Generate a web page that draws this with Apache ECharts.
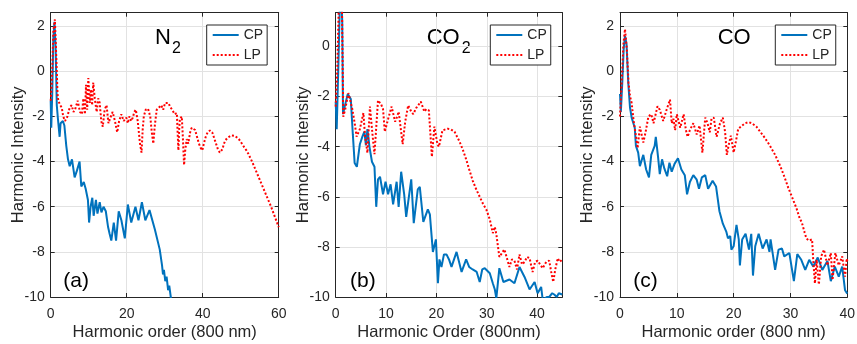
<!DOCTYPE html>
<html>
<head>
<meta charset="utf-8">
<script src="https://cdn.jsdelivr.net/npm/echarts@6/dist/echarts.min.js"></script>
<style>
  html, body { margin: 0; padding: 0; background: #fff; }
  #chart { width: 857px; height: 344px; }
</style>
</head>
<body>
<div id="chart"></div>
<script>
// 数据 : [谐波阶次, 强度]
const n2CP = [[0,-1.3],[0.15,-2.5],[0.4,-1.0],[0.7,1.5],[1.0,2.2],[1.3,1.0],[1.6,-1.5],[1.9,-2.1],[2.35,-2.9],[2.6,-2.3],[3.2,-2.2],[3.6,-2.4],[4.1,-3.3],[4.55,-3.9],[5.0,-4.2],[5.6,-3.9],[6.3,-4.7],[6.9,-4.4],[7.6,-4.0],[8.05,-5.1],[8.7,-4.9],[9.2,-5.2],[9.8,-5.7],[10.1,-6.7],[10.5,-6.0],[10.95,-5.6],[11.3,-6.4],[11.9,-5.7],[12.3,-6.3],[12.9,-5.8],[13.35,-6.25],[13.9,-6.0],[14.5,-6.2],[15.1,-6.9],[15.5,-7.2],[15.95,-7.5],[16.6,-6.7],[17.2,-7.5],[17.9,-6.2],[18.6,-6.6],[19.5,-7.4],[20.3,-5.9],[21.2,-6.7],[22.3,-6.0],[23.1,-6.6],[24.0,-5.8],[24.9,-6.6],[26.0,-6.15],[27.4,-7.0],[28.7,-7.9],[29.3,-8.6],[29.55,-9.0],[29.8,-8.8],[30.15,-9.3],[30.5,-9.1],[30.9,-9.7],[31.2,-9.5],[31.6,-10.0],[31.8,-10.3]]
const n2LP = [[0,-1.3],[0.3,-0.5],[0.7,1.8],[1.1,2.3],[1.5,0.5],[1.8,-1.0],[2.0,-1.3],[2.5,-1.5],[2.9,-1.6],[3.3,-2.0],[3.76,-2.2],[4.4,-2.0],[5.0,-1.6],[5.5,-1.5],[6.0,-1.8],[6.4,-1.7],[7.1,-1.3],[7.7,-1.8],[8.2,-1.9],[8.6,-1.2],[9.0,-1.9],[9.3,-0.6],[9.6,-1.7],[9.9,-0.3],[10.3,-1.4],[10.6,-0.8],[10.9,-1.5],[11.2,-0.5],[11.6,-1.2],[12.1,-1.8],[12.5,-1.2],[12.9,-1.4],[13.3,-2.2],[13.7,-2.45],[14.2,-1.7],[14.7,-1.5],[15.2,-2.3],[15.6,-2.1],[16.3,-1.8],[16.9,-2.2],[17.5,-2.7],[18.0,-2.2],[18.6,-1.9],[19.2,-2.2],[19.9,-2.05],[20.3,-2.3],[20.7,-2.0],[21.2,-2.2],[21.6,-2.05],[22.0,-1.8],[22.4,-1.7],[22.9,-2.2],[23.5,-3.2],[23.9,-3.6],[24.2,-2.6],[24.5,-2.0],[25.0,-1.7],[25.6,-1.65],[26.2,-2.0],[26.6,-2.7],[27.0,-3.2],[27.4,-2.4],[27.9,-1.7],[28.5,-1.6],[29.1,-1.5],[29.6,-1.7],[30.1,-1.4],[30.5,-1.45],[31.0,-1.4],[31.5,-1.6],[32.0,-1.7],[32.6,-1.9],[33.2,-1.85],[33.4,-2.7],[33.6,-3.5],[33.8,-2.6],[34.0,-2.1],[34.5,-2.0],[34.8,-3.0],[35.1,-4.15],[35.4,-3.5],[35.8,-3.0],[36.2,-3.2],[36.7,-2.7],[37.1,-2.5],[37.5,-2.45],[38.0,-2.6],[38.5,-2.9],[39.0,-3.2],[39.5,-3.4],[39.9,-3.5],[40.3,-3.2],[40.8,-2.9],[41.3,-2.7],[41.9,-2.62],[42.5,-2.7],[43.0,-2.95],[43.5,-3.2],[44.0,-3.45],[44.5,-3.6],[44.8,-3.65],[45.2,-3.45],[45.6,-3.2],[46.0,-3.05],[46.5,-2.95],[47.0,-2.88],[47.5,-2.84],[48.0,-2.83],[48.5,-2.86],[49.0,-2.92],[49.5,-3.0],[50.0,-3.12],[50.5,-3.25],[51.0,-3.38],[51.5,-3.5],[52.0,-3.65],[53.0,-4.0],[54.0,-4.4],[55.0,-4.8],[56.0,-5.2],[57.0,-5.6],[58.0,-6.0],[59.0,-6.45],[60.0,-6.9]]

const co2CP = [[0,-2.2],[0.2,-3.3],[0.5,-1.0],[0.8,1.5],[1.0,2.5],[1.3,1.0],[1.45,-2.7],[1.9,-2.3],[2.4,-1.9],[3.0,-2.1],[3.4,-3.5],[3.76,-4.65],[4.2,-4.8],[4.8,-3.9],[5.3,-3.6],[5.7,-3.4],[6.0,-3.95],[6.3,-3.3],[6.7,-4.0],[7.2,-4.6],[7.7,-4.8],[8.05,-6.4],[8.4,-5.3],[8.8,-5.2],[9.4,-5.9],[9.9,-5.4],[10.4,-5.9],[10.9,-5.5],[11.4,-6.3],[12.1,-5.4],[12.5,-6.4],[13.0,-5.0],[13.6,-5.9],[14.0,-6.8],[15.0,-5.3],[15.5,-7.05],[16.3,-5.7],[16.7,-5.6],[17.4,-7.0],[18.3,-6.5],[18.7,-6.7],[19.3,-8.2],[19.9,-7.7],[20.3,-9.45],[20.6,-8.5],[21.0,-8.8],[21.5,-8.3],[22.0,-8.3],[22.5,-8.5],[23.0,-8.8],[24.0,-8.2],[25.0,-9.0],[25.9,-8.5],[26.5,-8.8],[27.2,-8.9],[28.0,-9.0],[28.6,-9.4],[29.1,-8.9],[29.6,-8.85],[30.6,-9.05],[31.2,-9.45],[31.6,-9.7],[31.9,-10.05],[32.5,-8.85],[33.3,-9.4],[34.5,-9.3],[35.5,-9.45],[36.5,-8.8],[37.5,-9.2],[38.5,-9.7],[39.5,-9.4],[40.1,-9.85],[40.8,-9.6],[41.1,-10.1],[42.0,-10.0],[42.4,-10.0],[43.0,-9.85],[43.4,-9.9],[43.9,-10.0],[44.3,-9.85],[45.0,-9.9]]
const co2LP = [[0,-2.4],[0.3,-1.0],[0.6,1.5],[0.95,3.0],[1.25,1.5],[1.5,-2.8],[1.9,-2.5],[2.5,-1.86],[2.7,-2.0],[3.3,-2.5],[3.8,-3.1],[4.15,-3.6],[4.8,-3.3],[5.5,-2.65],[5.8,-3.5],[6.3,-4.25],[6.8,-2.4],[7.3,-3.5],[7.7,-4.3],[8.4,-2.15],[9.0,-2.3],[9.4,-2.5],[9.75,-3.4],[10.4,-2.9],[11.1,-2.4],[11.8,-3.0],[12.2,-2.8],[12.5,-2.6],[13.3,-3.9],[13.8,-3.0],[14.4,-2.35],[15.0,-2.6],[15.4,-2.7],[16.0,-2.45],[16.9,-2.2],[17.6,-2.6],[18.0,-2.5],[18.5,-2.55],[19.1,-4.4],[19.6,-3.2],[20.2,-3.9],[20.5,-4.0],[21.2,-3.35],[22.2,-3.28],[22.8,-3.3],[23.6,-3.4],[24.6,-3.8],[25.3,-4.15],[25.9,-4.5],[26.5,-4.9],[27.2,-5.35],[27.9,-5.7],[28.6,-6.0],[29.3,-6.3],[29.9,-6.5],[30.6,-6.9],[31.2,-7.45],[31.6,-7.2],[31.9,-7.5],[32.5,-8.4],[33.5,-8.1],[34.5,-8.8],[35.0,-8.5],[35.5,-8.55],[36.0,-8.9],[36.5,-8.3],[37.0,-8.7],[37.5,-8.6],[38.0,-8.4],[38.5,-8.45],[39.1,-9.0],[39.6,-8.6],[40.1,-8.55],[40.6,-8.7],[41.1,-8.85],[41.8,-8.6],[42.4,-8.55],[42.8,-9.0],[43.2,-9.4],[43.6,-8.9],[44.1,-8.45],[44.5,-8.6],[45.0,-8.5]]

const coCP = [[0,-1.0],[0.15,-1.8],[0.4,-0.5],[0.65,1.0],[0.88,1.57],[1.15,1.2],[1.45,-0.5],[1.76,-1.6],[2.05,-2.05],[2.3,-2.0],[2.6,-2.5],[2.8,-3.3],[3.2,-3.6],[3.5,-4.2],[4.1,-3.7],[4.6,-4.35],[5.1,-4.7],[5.5,-3.7],[6.1,-3.3],[6.3,-2.9],[6.7,-3.8],[7.0,-4.55],[7.4,-3.9],[7.8,-4.3],[8.3,-4.65],[8.7,-4.05],[9.1,-4.45],[9.6,-4.1],[10.2,-3.85],[10.8,-4.35],[11.4,-4.6],[11.8,-5.45],[12.3,-4.9],[12.9,-4.6],[13.5,-4.8],[13.9,-5.2],[14.4,-4.7],[15.0,-4.6],[15.5,-5.2],[16.3,-4.85],[16.9,-5.1],[17.5,-6.2],[18.1,-6.75],[18.7,-7.1],[19.0,-7.4],[19.4,-7.3],[19.6,-7.9],[20.0,-7.75],[20.5,-6.8],[20.9,-7.45],[21.1,-8.6],[21.5,-7.45],[22.1,-7.2],[22.7,-7.9],[23.1,-7.2],[23.4,-9.05],[23.8,-7.75],[24.4,-7.2],[25.1,-7.85],[25.8,-7.45],[26.3,-8.0],[26.5,-7.45],[27.3,-8.8],[27.9,-7.9],[28.5,-7.85],[28.9,-8.2],[29.8,-8.05],[30.6,-9.3],[31.2,-8.1],[31.9,-8.35],[32.6,-8.8],[33.3,-8.35],[34.0,-8.65],[34.8,-8.25],[35.6,-8.8],[36.5,-8.4],[37.1,-9.3],[37.8,-8.65],[38.5,-9.1],[39.1,-8.65],[39.6,-9.7],[40.0,-9.85]]
const coLP = [[0,-2.0],[0.3,-0.5],[0.6,1.2],[0.88,1.87],[1.2,1.0],[1.5,-0.5],[1.76,-1.1],[2.05,-1.4],[2.4,-2.2],[2.8,-2.85],[3.1,-3.4],[3.5,-2.45],[4.1,-3.15],[4.5,-2.7],[5.0,-2.0],[5.5,-1.9],[5.9,-2.3],[6.6,-1.55],[7.0,-1.7],[7.6,-2.2],[8.2,-1.7],[8.8,-1.25],[9.1,-2.3],[9.4,-2.1],[9.7,-2.6],[10.0,-1.9],[10.6,-2.5],[11.2,-1.9],[11.6,-2.6],[11.9,-2.9],[12.3,-2.6],[12.9,-2.3],[13.5,-2.8],[14.0,-2.4],[14.5,-3.6],[15.0,-2.05],[15.4,-2.3],[15.8,-2.7],[16.1,-2.1],[16.5,-2.05],[17.0,-2.9],[17.6,-2.3],[18.1,-2.05],[18.5,-2.7],[18.8,-3.7],[19.1,-3.3],[19.5,-2.85],[20.0,-3.6],[20.4,-3.1],[20.8,-2.55],[21.5,-2.4],[22.0,-2.3],[22.6,-2.25],[23.2,-2.3],[24.0,-2.45],[24.6,-2.65],[25.5,-2.95],[26.4,-3.3],[27.3,-3.7],[28.2,-4.2],[28.9,-4.65],[29.6,-5.15],[30.4,-5.65],[31.1,-6.1],[31.6,-6.5],[32.0,-6.7],[32.5,-7.15],[32.8,-7.4],[33.2,-7.5],[33.8,-7.45],[34.0,-8.35],[34.3,-9.4],[34.6,-8.35],[35.0,-9.45],[35.4,-8.2],[35.9,-7.9],[36.5,-8.6],[37.1,-8.05],[37.4,-9.25],[37.9,-8.05],[38.5,-8.6],[39.1,-8.2],[39.6,-9.1],[39.9,-8.3],[40.0,-8.4]]

// 坐标轴范围
const xMaxes = [60, 45, 40]
const xSteps = [20, 10, 10]
const yMaxes = [2.6, 1.35, 2.6]
const xNames = ['Harmonic order (800 nm)', 'Harmonic Order (800nm)', 'Harmonic order (800 nm)']
const panelTags = ['(a)', '(b)', '(c)']
const cpData = [n2CP, co2CP, coCP]
const lpData = [n2LP, co2LP, coLP]

const myChart = echarts.init(document.getElementById('chart'))
const font = '"Liberation Sans", Arial, Helvetica, sans-serif'
const axisColor = '#262626'
const lefts = [50.7, 335.7, 620]
const widths = [228, 226.6, 227.3]

const grids = []
const xAxes = []
const yAxes = []
const series = []
const legends = []
const onStep = (v, step) => (Math.abs(v / step - Math.round(v / step)) < 1e-6 ? String(v) : '')

for (let i = 0; i < 3; i++) {
  // 关掉 v6 的 outerBounds，网格位置固定
  grids.push({ left: lefts[i], top: 12.7, width: widths[i], height: 284.3, outerBoundsMode: 'none' })
  const tick = { inside: true, length: 4, lineStyle: { color: axisColor } }
  const line = { show: true, onZero: false, lineStyle: { color: axisColor, width: 1 } }
  xAxes[i] = {
    type: 'value', gridIndex: i, min: 0, max: xMaxes[i], interval: xSteps[i],
    axisLine: line, axisTick: tick,
    axisLabel: { color: axisColor, fontSize: 14, fontFamily: font, margin: 10, formatter: v => onStep(v, xSteps[i]) },
    splitLine: { show: true, lineStyle: { color: '#e2e2e2' } },
    name: xNames[i], nameLocation: 'middle', nameGap: 27, nameMoveOverlap: false,
    nameTextStyle: { color: axisColor, fontSize: 16.5, fontFamily: font }
  }
  xAxes[i + 3] = {
    type: 'value', gridIndex: i, position: 'top', min: 0, max: xMaxes[i], interval: xSteps[i],
    axisLine: line, axisTick: tick, axisLabel: { show: false }, splitLine: { show: false }
  }
  yAxes[i] = {
    type: 'value', gridIndex: i, min: -10, max: yMaxes[i], interval: 2,
    axisLine: line, axisTick: tick,
    axisLabel: { color: axisColor, fontSize: 14, fontFamily: font, margin: 6, formatter: v => onStep(v, 2) },
    splitLine: { show: true, lineStyle: { color: '#e2e2e2' } },
    name: 'Harmonic Intensity', nameLocation: 'middle', nameGap: 24, nameMoveOverlap: false,
    nameTextStyle: { color: axisColor, fontSize: 16.5, fontFamily: font }
  }
  yAxes[i + 3] = {
    type: 'value', gridIndex: i, position: 'right', min: -10, max: yMaxes[i], interval: 2,
    axisLine: line, axisTick: tick, axisLabel: { show: false }, splitLine: { show: false }
  }
  series.push({
    name: 'CP', type: 'line', xAxisIndex: i, yAxisIndex: i, data: cpData[i],
    symbol: 'none', clip: true,
    lineStyle: { color: '#0072BD', width: 2 }, itemStyle: { color: '#0072BD' }
  })
  series.push({
    name: 'LP', type: 'line', xAxisIndex: i, yAxisIndex: i, data: lpData[i],
    symbol: 'none', clip: true,
    lineStyle: { color: '#FF0000', width: 2, type: [2, 2] }, itemStyle: { color: '#FF0000' }
  })
  legends.push({
    data: ['CP', 'LP'], orient: 'vertical',
    left: lefts[i] + widths[i] - 72, top: 25,
    itemWidth: 26, itemHeight: 14, itemGap: 6,
    padding: [3, 4, 3, 5],
    borderColor: axisColor, borderWidth: 1, backgroundColor: '#fff',
    itemStyle: { opacity: 0 },
    textStyle: { color: axisColor, fontSize: 14, fontFamily: font },
    selectedMode: false
  })
}

// 标题文字
const graphic = []
const mol = [['N', 155, 172], ['CO', 426.7, 461.7], ['CO', 717.7, null]]
mol.forEach(([t, x, sx]) => {
  graphic.push({ type: 'text', x: x, y: 37.5, style: { text: t, font: '22px ' + font, fill: '#000', verticalAlign: 'middle' } })
  if (sx) graphic.push({ type: 'text', x: sx, y: 49, style: { text: '2', font: '16px ' + font, fill: '#000', verticalAlign: 'middle' } })
})
const tagX = [63.3, 350, 633.3]
panelTags.forEach((t, i) => {
  graphic.push({ type: 'text', x: tagX[i], y: 281.7, style: { text: t, font: '21px ' + font, fill: '#000', verticalAlign: 'middle' } })
})

const option = {
  animation: false,
  backgroundColor: '#fff',
  grid: grids,
  xAxis: xAxes,
  yAxis: yAxes,
  legend: legends,
  series: series,
  graphic: graphic
}

myChart.setOption(option)
window.addEventListener('resize', () => {
  myChart.resize()
})
</script>
</body>
</html>
